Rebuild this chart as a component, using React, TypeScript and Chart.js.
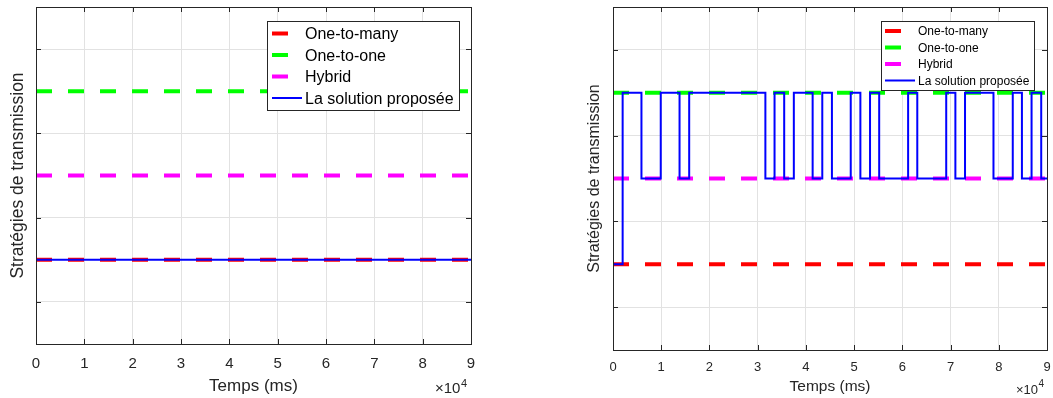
import React, { useEffect, useRef } from 'react';
import { Chart, registerables } from 'chart.js';

Chart.register(...registerables);

// ---------------- data ----------------
const timeStart = 0;
const timeEnd = 90000;
const xTickValues = [0, 10000, 20000, 30000, 40000, 50000, 60000, 70000, 80000, 90000];
const yGridValues = [0.5, 1.5, 2.5, 3.5];
const seriesNames = ['One-to-many', 'One-to-one', 'Hybrid', 'La solution proposée'];
const oneToManyLevel = 1;
const oneToOneLevel = 3;
const hybridLevel = 2;

// left panel: proposed solution stays at One-to-many
const leftProposedTimes = [0, 90000];
const leftProposedLevels = [1, 1];

// right panel: proposed solution switches between strategies
const rightProposedTimes = [
  0, 2000, 5900, 9900, 13800, 15800, 31600, 33500, 35500, 37500, 41400, 43400, 45400,
  49300, 51300, 53300, 55200, 61200, 63100, 69100, 71000, 73000, 78900, 82900, 84800,
  86800, 88800, 90000,
];
const rightProposedLevels = [
  1, 3, 2, 3, 2, 3, 2, 3, 2, 3, 2, 3, 2, 3, 2, 3, 2, 3, 2, 3, 2, 3, 2, 3, 2, 3, 2, 2,
];

// ---------------- styling ----------------
const FONT = "'Liberation Sans', Arial, Helvetica, sans-serif";
const TEXT = '#262626';
const GRID = '#e2e2e2';

const matlabPlugin = {
  id: 'matlab',
  afterDatasetsDraw(chart: any, _args: any, opts: any) {
    const ctx = chart.ctx as CanvasRenderingContext2D;
    const { left, right, top, bottom } = chart.chartArea;
    const tl = opts.tickLen;
    ctx.save();
    ctx.setLineDash([]);
    ctx.strokeStyle = TEXT;
    ctx.lineWidth = 1;
    ctx.beginPath();
    chart.scales.x.ticks.forEach((t: any) => {
      const px = Math.round(chart.scales.x.getPixelForValue(t.value)) + 0.5;
      ctx.moveTo(px, bottom);
      ctx.lineTo(px, bottom - tl);
      ctx.moveTo(px, top);
      ctx.lineTo(px, top + tl);
    });
    chart.scales.y.ticks.forEach((t: any) => {
      const py = Math.round(chart.scales.y.getPixelForValue(t.value)) + 0.5;
      ctx.moveTo(left, py);
      ctx.lineTo(left + tl, py);
      ctx.moveTo(right, py);
      ctx.lineTo(right - tl, py);
    });
    ctx.stroke();
    ctx.strokeRect(Math.round(left) + 0.5, Math.round(top) + 0.5, Math.round(right - left), Math.round(bottom - top));

    // legend
    const lg = opts.legend;
    ctx.fillStyle = '#ffffff';
    ctx.fillRect(lg.x, lg.y, lg.w, lg.h);
    ctx.strokeStyle = TEXT;
    ctx.lineWidth = 1;
    ctx.strokeRect(lg.x + 0.5, lg.y + 0.5, lg.w, lg.h);
    chart.data.datasets.forEach((ds: any, i: number) => {
      const y = lg.rows[i];
      ctx.save();
      ctx.beginPath();
      ctx.strokeStyle = ds.borderColor;
      ctx.lineWidth = ds.borderWidth;
      ctx.lineCap = 'butt';
      ctx.setLineDash(ds.borderDash || []);
      ctx.moveTo(lg.sampleX, y);
      ctx.lineTo(lg.sampleX + lg.sampleLen, y);
      ctx.stroke();
      ctx.restore();
      ctx.fillStyle = '#000000';
      ctx.font = `${lg.font}px ${FONT}`;
      ctx.textAlign = 'left';
      ctx.textBaseline = 'middle';
      ctx.fillText(ds.label, lg.textX, y + lg.textDy);
    });

    // exponent label
    const ex = opts.exp;
    ctx.fillStyle = TEXT;
    ctx.textAlign = 'left';
    ctx.textBaseline = 'alphabetic';
    ctx.font = `${ex.font}px ${FONT}`;
    ctx.fillText('×10', ex.x, ex.baseline);
    const w = ctx.measureText('×10').width;
    ctx.font = `${ex.supFont}px ${FONT}`;
    ctx.fillText('4', ex.x + w + 0.5, ex.supBaseline);
    ctx.restore();
  },
};

function flatLine(level: number) {
  return [
    { x: timeStart, y: level },
    { x: timeEnd, y: level },
  ];
}

function buildConfig(p: any, times: number[], levels: number[]): any {
  const proposed = times.map((t, i) => ({ x: t, y: levels[i] }));
  const dashed = (label: string, color: string, level: number) => ({
    label,
    data: flatLine(level),
    borderColor: color,
    backgroundColor: color,
    borderWidth: 4,
    borderDash: [16, 16],
    pointRadius: 0,
    fill: false,
    order: 1,
  });
  return {
    type: 'line',
    data: {
      datasets: [
        dashed(seriesNames[0], '#ff0000', oneToManyLevel),
        dashed(seriesNames[1], '#00ff00', oneToOneLevel),
        dashed(seriesNames[2], '#ff00ff', hybridLevel),
        {
          label: seriesNames[3],
          data: proposed,
          borderColor: '#0000ff',
          backgroundColor: '#0000ff',
          borderWidth: 2,
          stepped: 'before',
          pointRadius: 0,
          fill: false,
          order: 0,
        },
      ],
    },
    options: {
      animation: false,
      responsive: false,
      maintainAspectRatio: false,
      layout: { autoPadding: false, padding: { top: p.padTop, right: p.padRight, left: 0, bottom: 0 } },
      plugins: {
        legend: { display: false },
        tooltip: { enabled: false },
        matlab: { tickLen: p.tickLen, legend: p.legend, exp: p.exp },
      },
      scales: {
        x: {
          type: 'linear',
          min: timeStart,
          max: timeEnd,
          afterBuildTicks: (scale: any) => {
            scale.ticks = xTickValues.map((v) => ({ value: v }));
          },
          afterFit: (scale: any) => {
            scale.height = p.xHeight;
          },
          ticks: {
            autoSkip: false,
            maxRotation: 0,
            padding: 0,
            color: TEXT,
            font: { family: FONT, size: p.tickFont },
            callback: (v: number) => String(v / 10000),
          },
          grid: {
            color: GRID,
            drawTicks: true,
            tickLength: p.tickPad,
            tickColor: 'rgba(0,0,0,0)',
            lineWidth: 1,
          },
          border: { display: false },
          title: {
            display: true,
            text: 'Temps (ms)',
            color: TEXT,
            font: { family: FONT, size: p.xTitleFont },
            padding: { top: 0, bottom: p.xTitlePad },
          },
        },
        y: {
          type: 'linear',
          min: 0,
          max: 4,
          afterBuildTicks: (scale: any) => {
            scale.ticks = yGridValues.map((v) => ({ value: v }));
          },
          afterFit: (scale: any) => {
            scale.width = p.yWidth;
          },
          ticks: { display: false },
          grid: { color: GRID, drawTicks: false, lineWidth: 1 },
          border: { display: false },
          title: {
            display: true,
            text: 'Stratégies de transmission',
            color: TEXT,
            font: { family: FONT, size: p.yTitleFont },
            padding: { top: p.yTitlePad, bottom: 0 },
          },
        },
      },
    },
    plugins: [matlabPlugin],
  };
}

const leftPanel = {
  left: 0,
  width: 520,
  padTop: 7,
  padRight: 49,
  xHeight: 54,
  yWidth: 36,
  tickPad: 11,
  tickFont: 15,
  xTitleFont: 17,
  xTitlePad: 1.5,
  yTitleFont: 17.5,
  yTitlePad: 8,
  tickLen: 5,
  legend: { x: 267, y: 21, w: 192, h: 89, rows: [33.5, 55, 76.5, 98], textDy: 1.5, sampleX: 272, sampleLen: 30, textX: 305, font: 16 },
  exp: { x: 435, baseline: 393, font: 15, supFont: 11, supBaseline: 387 },
};

const rightPanel = {
  left: 527,
  width: 526,
  padTop: 7,
  padRight: 6,
  xHeight: 48,
  yWidth: 86,
  tickPad: 9.5,
  tickFont: 13,
  xTitleFont: 15.5,
  xTitlePad: 2,
  yTitleFont: 16,
  yTitlePad: 58,
  tickLen: 5,
  legend: { x: 881, y: 21, w: 153, h: 69, rows: [31, 47.5, 64, 80.5], textDy: 1, sampleX: 885, sampleLen: 30, textX: 918, font: 12 },
  exp: { x: 489, baseline: 394, font: 13, supFont: 10, supBaseline: 386.5 },
};
// legend x positions of right panel are in page coords; convert to canvas coords
rightPanel.legend = { ...rightPanel.legend, x: rightPanel.legend.x - rightPanel.left, sampleX: rightPanel.legend.sampleX - rightPanel.left, textX: rightPanel.legend.textX - rightPanel.left };

function Panel({ p, times, levels }: { p: any; times: number[]; levels: number[] }) {
  const ref = useRef<HTMLCanvasElement>(null);
  useEffect(() => {
    const chart = new Chart(ref.current as HTMLCanvasElement, buildConfig(p, times, levels));
    return () => chart.destroy();
  }, []);
  return (
    <canvas
      ref={ref}
      width={p.width}
      height={398}
      style={{ position: 'absolute', left: p.left, top: 0, width: p.width, height: 398 }}
    />
  );
}

export default function App() {
  return (
    <div style={{ position: 'fixed', left: 0, top: 0, width: 1053, height: 398, background: '#ffffff', overflow: 'hidden' }}>
      <Panel p={leftPanel} times={leftProposedTimes} levels={leftProposedLevels} />
      <Panel p={rightPanel} times={rightProposedTimes} levels={rightProposedLevels} />
    </div>
  );
}
